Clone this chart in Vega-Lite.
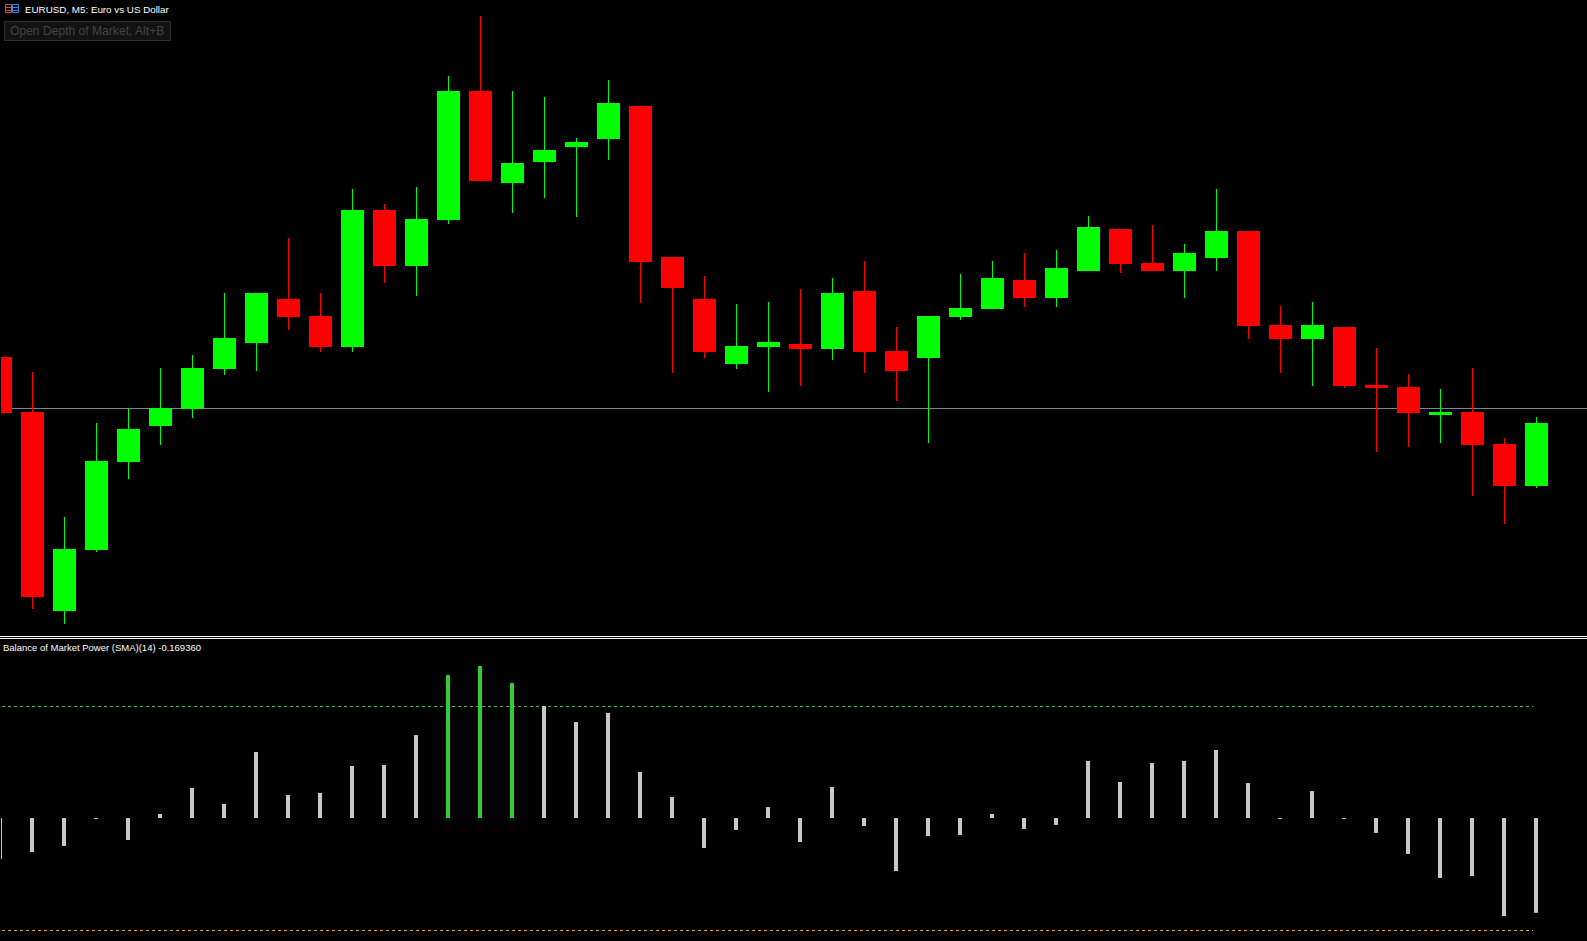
{"$schema":"https://vega.github.io/schema/vega-lite/v6.json","width":1587,"height":941,"padding":0,"autosize":{"type":"none"},"background":"#000000","config":{"view":{"stroke":null}},
"datasets":{
"candles":[
{"bar":0,"open":1.08052,"high":1.08052,"low":1.07996,"close":1.07996,"dir":"down"},
{"bar":1,"open":1.07997,"high":1.08037,"low":1.078,"close":1.07812,"dir":"down"},
{"bar":2,"open":1.07798,"high":1.07892,"low":1.07785,"close":1.0786,"dir":"up"},
{"bar":3,"open":1.07859,"high":1.07986,"low":1.07857,"close":1.07948,"dir":"up"},
{"bar":4,"open":1.07947,"high":1.08001,"low":1.0793,"close":1.0798,"dir":"up"},
{"bar":5,"open":1.07983,"high":1.08041,"low":1.07964,"close":1.08001,"dir":"up"},
{"bar":6,"open":1.08,"high":1.08054,"low":1.07991,"close":1.08041,"dir":"up"},
{"bar":7,"open":1.0804,"high":1.08116,"low":1.08034,"close":1.08071,"dir":"up"},
{"bar":8,"open":1.08066,"high":1.08116,"low":1.08038,"close":1.08116,"dir":"up"},
{"bar":9,"open":1.0811,"high":1.08171,"low":1.08079,"close":1.08092,"dir":"down"},
{"bar":10,"open":1.08093,"high":1.08116,"low":1.08057,"close":1.08062,"dir":"down"},
{"bar":11,"open":1.08062,"high":1.0822,"low":1.08057,"close":1.08199,"dir":"up"},
{"bar":12,"open":1.08199,"high":1.08205,"low":1.08126,"close":1.08143,"dir":"down"},
{"bar":13,"open":1.08143,"high":1.08222,"low":1.08113,"close":1.0819,"dir":"up"},
{"bar":14,"open":1.08189,"high":1.08333,"low":1.08185,"close":1.08318,"dir":"up"},
{"bar":15,"open":1.08318,"high":1.08393,"low":1.08228,"close":1.08228,"dir":"down"},
{"bar":16,"open":1.08226,"high":1.08318,"low":1.08196,"close":1.08246,"dir":"up"},
{"bar":17,"open":1.08247,"high":1.08312,"low":1.08211,"close":1.08259,"dir":"up"},
{"bar":18,"open":1.08262,"high":1.08271,"low":1.08192,"close":1.08267,"dir":"up"},
{"bar":19,"open":1.0827,"high":1.08329,"low":1.08249,"close":1.08306,"dir":"up"},
{"bar":20,"open":1.08303,"high":1.08303,"low":1.08106,"close":1.08147,"dir":"down"},
{"bar":21,"open":1.08152,"high":1.08152,"low":1.08036,"close":1.08121,"dir":"down"},
{"bar":22,"open":1.0811,"high":1.08133,"low":1.08051,"close":1.08057,"dir":"down"},
{"bar":23,"open":1.08045,"high":1.08105,"low":1.0804,"close":1.08063,"dir":"up"},
{"bar":24,"open":1.08062,"high":1.08107,"low":1.08017,"close":1.08067,"dir":"up"},
{"bar":25,"open":1.08065,"high":1.0812,"low":1.08023,"close":1.0806,"dir":"down"},
{"bar":26,"open":1.0806,"high":1.08131,"low":1.08049,"close":1.08116,"dir":"up"},
{"bar":27,"open":1.08118,"high":1.08148,"low":1.08036,"close":1.08057,"dir":"down"},
{"bar":28,"open":1.08058,"high":1.08082,"low":1.08008,"close":1.08038,"dir":"down"},
{"bar":29,"open":1.08051,"high":1.08093,"low":1.07966,"close":1.08093,"dir":"up"},
{"bar":30,"open":1.08092,"high":1.08135,"low":1.08089,"close":1.08101,"dir":"up"},
{"bar":31,"open":1.081,"high":1.08148,"low":1.081,"close":1.08131,"dir":"up"},
{"bar":32,"open":1.08129,"high":1.08156,"low":1.08102,"close":1.08111,"dir":"down"},
{"bar":33,"open":1.08111,"high":1.08159,"low":1.08102,"close":1.08141,"dir":"up"},
{"bar":34,"open":1.08138,"high":1.08193,"low":1.08138,"close":1.08182,"dir":"up"},
{"bar":35,"open":1.0818,"high":1.0818,"low":1.08136,"close":1.08145,"dir":"down"},
{"bar":36,"open":1.08146,"high":1.08184,"low":1.08138,"close":1.08138,"dir":"down"},
{"bar":37,"open":1.08138,"high":1.08165,"low":1.08111,"close":1.08156,"dir":"up"},
{"bar":38,"open":1.08151,"high":1.0822,"low":1.08138,"close":1.08178,"dir":"up"},
{"bar":39,"open":1.08178,"high":1.08178,"low":1.0807,"close":1.08083,"dir":"down"},
{"bar":40,"open":1.08084,"high":1.08103,"low":1.08036,"close":1.0807,"dir":"down"},
{"bar":41,"open":1.0807,"high":1.08107,"low":1.08023,"close":1.08084,"dir":"up"},
{"bar":42,"open":1.08082,"high":1.08082,"low":1.08021,"close":1.08023,"dir":"down"},
{"bar":43,"open":1.08024,"high":1.08061,"low":1.07957,"close":1.08021,"dir":"down"},
{"bar":44,"open":1.08022,"high":1.08035,"low":1.07962,"close":1.07996,"dir":"down"},
{"bar":45,"open":1.07994,"high":1.0802,"low":1.07966,"close":1.07997,"dir":"up"},
{"bar":46,"open":1.07997,"high":1.08041,"low":1.07913,"close":1.07964,"dir":"down"},
{"bar":47,"open":1.07965,"high":1.07971,"low":1.07885,"close":1.07923,"dir":"down"},
{"bar":48,"open":1.07923,"high":1.07992,"low":1.07921,"close":1.07986,"dir":"up"}],
"bop":[
{"bar":0,"bop":-0.07321,"zone":"within"},{"bar":1,"bop":-0.06071,"zone":"within"},{"bar":2,"bop":-0.05,"zone":"within"},{"bar":3,"bop":-0.00179,"zone":"within"},{"bar":4,"bop":-0.03929,"zone":"within"},{"bar":5,"bop":0.00714,"zone":"within"},{"bar":6,"bop":0.05357,"zone":"within"},{"bar":7,"bop":0.025,"zone":"within"},{"bar":8,"bop":0.11786,"zone":"within"},{"bar":9,"bop":0.04107,"zone":"within"},{"bar":10,"bop":0.04464,"zone":"within"},{"bar":11,"bop":0.09286,"zone":"within"},{"bar":12,"bop":0.09464,"zone":"within"},{"bar":13,"bop":0.14821,"zone":"within"},{"bar":14,"bop":0.25536,"zone":"above"},{"bar":15,"bop":0.27143,"zone":"above"},{"bar":16,"bop":0.24107,"zone":"above"},{"bar":17,"bop":0.2,"zone":"within"},{"bar":18,"bop":0.17143,"zone":"within"},{"bar":19,"bop":0.1875,"zone":"within"},{"bar":20,"bop":0.08214,"zone":"within"},{"bar":21,"bop":0.0375,"zone":"within"},{"bar":22,"bop":-0.05357,"zone":"within"},{"bar":23,"bop":-0.02143,"zone":"within"},{"bar":24,"bop":0.01964,"zone":"within"},{"bar":25,"bop":-0.04286,"zone":"within"},{"bar":26,"bop":0.05536,"zone":"within"},{"bar":27,"bop":-0.01429,"zone":"within"},{"bar":28,"bop":-0.09464,"zone":"within"},{"bar":29,"bop":-0.03214,"zone":"within"},{"bar":30,"bop":-0.03036,"zone":"within"},{"bar":31,"bop":0.00714,"zone":"within"},{"bar":32,"bop":-0.01964,"zone":"within"},{"bar":33,"bop":-0.0125,"zone":"within"},{"bar":34,"bop":0.10179,"zone":"within"},{"bar":35,"bop":0.06429,"zone":"within"},{"bar":36,"bop":0.09821,"zone":"within"},{"bar":37,"bop":0.10179,"zone":"within"},{"bar":38,"bop":0.12143,"zone":"within"},{"bar":39,"bop":0.0625,"zone":"within"},{"bar":40,"bop":-0.00179,"zone":"within"},{"bar":41,"bop":0.04821,"zone":"within"},{"bar":42,"bop":-0.00179,"zone":"within"},{"bar":43,"bop":-0.02679,"zone":"within"},{"bar":44,"bop":-0.06429,"zone":"within"},{"bar":45,"bop":-0.10714,"zone":"within"},{"bar":46,"bop":-0.10357,"zone":"within"},{"bar":47,"bop":-0.175,"zone":"within"},{"bar":48,"bop":-0.16936,"zone":"within"}],
"levels":[{"level":0.2,"from":0.047,"to":47.89,"kind":"upper"},{"level":-0.2,"from":0.047,"to":47.89,"kind":"lower"}],
"bidLine":[{"from":0.015625,"to":49.578125,"price":1.080005}],
"iconFrames":[{"from":0.15625,"to":0.34375,"p1":1.084045,"p2":1.083965,"side":"left"},{"from":0.375,"to":0.5625,"p1":1.084045,"p2":1.083965,"side":"right"}],
"iconLines":[{"from":0.15625,"to":0.34375,"p":1.084015,"side":"left"},{"from":0.15625,"to":0.34375,"p":1.083985,"side":"left"},{"from":0.375,"to":0.5625,"p":1.084015,"side":"right"},{"from":0.375,"to":0.5625,"p":1.083985,"side":"right"}],
"button":[{"from":0.125,"to":5.3125,"p1":1.083875,"p2":1.083685}],
"edge":[{"from":-0.015625,"to":0.015625,"p1":1.08409,"p2":1.07773}],
"edgeLower":[{"from":-0.015625,"to":0.015625,"v1":0.32321,"v2":-0.21964}],
"priceSeparator":[{"from":-0.015625,"to":49.578125,"p1":1.07773,"p2":1.07772}],
"bopSeparator":[{"from":-0.015625,"to":49.578125,"v1":0.32143,"v2":0.31964}],
"priceLabels":[{"label":"EURUSD, M5:  Euro vs US Dollar","bar":0.766,"price":1.083995,"role":"symbol"},{"label":"Open Depth of Market, Alt+B","bar":0.297,"price":1.08378,"role":"button"}],
"bopLabels":[{"label":"Balance of Market Power (SMA)(14) -0.169360","bar":0.078,"value":0.30446}]
},
"layer":[
{"data":{"name":"button"},"mark":{"type":"rect","fill":"#121212","stroke":"#303030","strokeWidth":1},"encoding":{"x":{"field":"from","type":"quantitative","scale":{"domain":[-0.015625,49.578125],"nice":false,"zero":false,"padding":0},"axis":null},"x2":{"field":"to"},"y":{"field":"p1","type":"quantitative","scale":{"domain":[1.07773,1.08409],"range":[636,0],"nice":false,"zero":false},"axis":null},"y2":{"field":"p2"}}},
{"data":{"name":"iconFrames"},"mark":{"type":"rect","fill":"#000000","strokeWidth":1},"encoding":{"x":{"field":"from","type":"quantitative","axis":null},"x2":{"field":"to"},"y":{"field":"p1","type":"quantitative","scale":{"domain":[1.07773,1.08409],"range":[636,0],"nice":false,"zero":false},"axis":null},"y2":{"field":"p2"},"stroke":{"field":"side","type":"nominal","scale":{"domain":["left","right"],"range":["#E0503C","#3C8CE6"]},"legend":null}}},
{"data":{"name":"iconLines"},"mark":{"type":"rule","strokeWidth":1},"encoding":{"x":{"field":"from","type":"quantitative","axis":null},"x2":{"field":"to"},"y":{"field":"p","type":"quantitative","scale":{"domain":[1.07773,1.08409],"range":[636,0],"nice":false,"zero":false},"axis":null},"stroke":{"field":"side","type":"nominal","scale":{"domain":["left","right"],"range":["#E0503C","#3C8CE6"]},"legend":null}}},
{"data":{"name":"bidLine"},"mark":{"type":"rule","color":"#778899","strokeWidth":1},"encoding":{"x":{"field":"from","type":"quantitative","axis":null},"x2":{"field":"to"},"y":{"field":"price","type":"quantitative","scale":{"domain":[1.07773,1.08409],"range":[636,0],"nice":false,"zero":false},"axis":null}}},
{"data":{"name":"candles"},"mark":{"type":"rule","strokeWidth":1},"encoding":{"x":{"field":"bar","type":"quantitative","axis":null},"y":{"field":"high","type":"quantitative","scale":{"domain":[1.07773,1.08409],"range":[636,0],"nice":false,"zero":false},"axis":null},"y2":{"field":"low"},"stroke":{"field":"dir","type":"nominal","scale":{"domain":["up","down"],"range":["#00FF00","#FF0000"]},"legend":null}}},
{"data":{"name":"candles"},"mark":{"type":"bar","size":23,"orient":"vertical"},"encoding":{"x":{"field":"bar","type":"quantitative","axis":null},"y":{"field":"open","type":"quantitative","scale":{"domain":[1.07773,1.08409],"range":[636,0],"nice":false,"zero":false},"axis":null},"y2":{"field":"close"},"fill":{"field":"dir","type":"nominal","scale":{"domain":["up","down"],"range":["#00FF00","#FF0000"]},"legend":null}}},
{"data":{"name":"levels"},"mark":{"type":"rule","strokeWidth":1,"strokeDash":[3,3],"yOffset":0.5},"encoding":{"x":{"field":"from","type":"quantitative","axis":null},"x2":{"field":"to"},"y":{"field":"level","type":"quantitative","scale":{"domain":[-0.21964,0.32321],"range":[941,637],"nice":false,"zero":false},"axis":null},"stroke":{"field":"kind","type":"nominal","scale":{"domain":["upper","lower"],"range":["#32CD32","#FFA500"]},"legend":null}}},
{"data":{"name":"bop"},"mark":{"type":"bar","size":4,"orient":"vertical","xOffset":-0.5},"encoding":{"x":{"field":"bar","type":"quantitative","axis":null},"y":{"field":"bop","type":"quantitative","scale":{"domain":[-0.21964,0.32321],"range":[941,637],"nice":false,"zero":false},"axis":null},"y2":{"datum":0},"fill":{"field":"zone","type":"nominal","scale":{"domain":["above","within"],"range":["#32CD32","#C8C8C8"]},"legend":null}}},
{"data":{"name":"edge"},"mark":{"type":"rect","fill":"#000000"},"encoding":{"x":{"field":"from","type":"quantitative","axis":null},"x2":{"field":"to"},"y":{"field":"p1","type":"quantitative","scale":{"domain":[1.07773,1.08409],"range":[636,0],"nice":false,"zero":false},"axis":null},"y2":{"field":"p2"}}},
{"data":{"name":"edgeLower"},"mark":{"type":"rect","fill":"#000000"},"encoding":{"x":{"field":"from","type":"quantitative","axis":null},"x2":{"field":"to"},"y":{"field":"v1","type":"quantitative","scale":{"domain":[-0.21964,0.32321],"range":[941,637],"nice":false,"zero":false},"axis":null},"y2":{"field":"v2"}}},
{"data":{"name":"priceSeparator"},"mark":{"type":"rect","fill":"#FFFFFF"},"encoding":{"x":{"field":"from","type":"quantitative","axis":null},"x2":{"field":"to"},"y":{"field":"p1","type":"quantitative","scale":{"domain":[1.07772,1.08409],"range":[637,0],"nice":false,"zero":false},"axis":null},"y2":{"field":"p2"}}},
{"data":{"name":"bopSeparator"},"mark":{"type":"rect","fill":"#FFFFFF"},"encoding":{"x":{"field":"from","type":"quantitative","axis":null},"x2":{"field":"to"},"y":{"field":"v1","type":"quantitative","scale":{"domain":[-0.21964,0.32321],"range":[941,637],"nice":false,"zero":false},"axis":null},"y2":{"field":"v2"}}},
{"data":{"name":"priceLabels"},"mark":{"type":"text","align":"left","baseline":"middle","font":"Liberation Sans"},"encoding":{"x":{"field":"bar","type":"quantitative","axis":null},"y":{"field":"price","type":"quantitative","scale":{"domain":[1.07773,1.08409],"range":[636,0],"nice":false,"zero":false},"axis":null},"text":{"field":"label","type":"nominal"},"size":{"field":"role","type":"nominal","scale":{"domain":["symbol","button"],"range":[9.8,12.1]},"legend":null},"color":{"field":"role","type":"nominal","scale":{"domain":["symbol","button"],"range":["#FFFFFF","#444444"]},"legend":null}}},
{"data":{"name":"bopLabels"},"mark":{"type":"text","align":"left","baseline":"middle","font":"Liberation Sans","fontSize":9.5,"color":"#FFFFFF"},"encoding":{"x":{"field":"bar","type":"quantitative","axis":null},"y":{"field":"value","type":"quantitative","scale":{"domain":[-0.21964,0.32321],"range":[941,637],"nice":false,"zero":false},"axis":null},"text":{"field":"label","type":"nominal"}}}
],
"resolve":{"scale":{"y":"independent","stroke":"independent","fill":"independent","color":"independent","size":"independent"}}
}
